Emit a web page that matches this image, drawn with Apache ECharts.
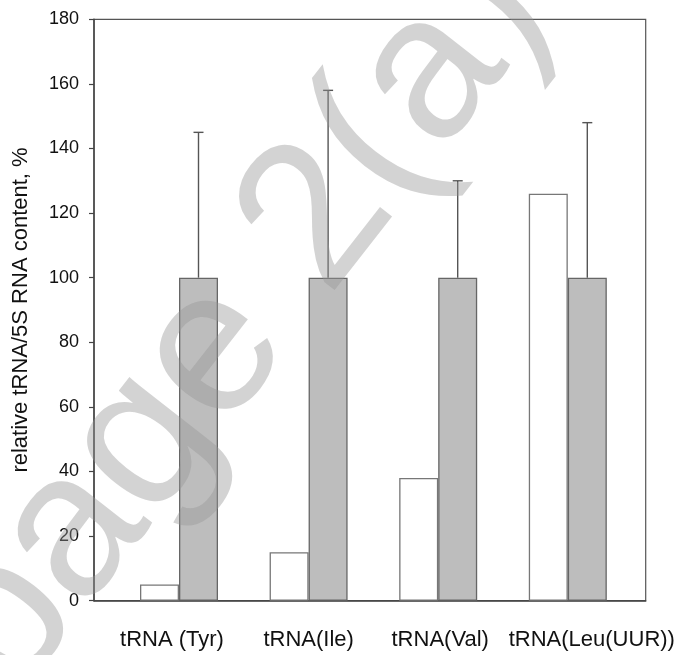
<!DOCTYPE html>
<html><head><meta charset="utf-8">
<script src="https://cdn.jsdelivr.net/npm/echarts@6/dist/echarts.min.js"></script>
<style>html,body{margin:0;padding:0;background:#fff}#c{width:678px;height:655px}</style>
</head><body><div id="c"></div>
<script>
const categories = ['tRNA (Tyr)', 'tRNA(Ile)', 'tRNA(Val)', 'tRNA(Leu(UUR))'];
const whiteValues = [5, 15, 38, 126];
const grayValues = [100, 100, 100, 100];
const grayErrorTop = [145, 158, 130, 148];
const yTicks = [0, 20, 40, 60, 80, 100, 120, 140, 160, 180];

const FONT = '"Liberation Sans", Arial, sans-serif';
const BAR_W = 39;
const chart = echarts.init(document.getElementById('c'), null, {renderer: 'canvas'});

const labelRich = {
  l0: {fontSize: 22, color: '#111', fontFamily: FONT, padding: [0, 14, 0, 0]},
  l1: {fontSize: 22, color: '#111', fontFamily: FONT, padding: [0, 0, 0, 0]},
  l2: {fontSize: 22, color: '#111', fontFamily: FONT, padding: [0, 0, 0, 4]},
  l3: {fontSize: 22, color: '#111', fontFamily: FONT, padding: [0, 0, 0, 48]}
};

const option = {
  animation: false,
  backgroundColor: '#fff',
  grid: [
    {left: 94, top: 19.3, width: 551.7, height: 581.4, show: true, borderColor: '#555', borderWidth: 1.2, backgroundColor: 'transparent'},
    {left: 114.2, top: 19.3, width: 518.4, height: 581.4}
  ],
  xAxis: [
    {gridIndex: 0, type: 'category', data: categories, axisLine: {show: true, lineStyle: {color: '#444', width: 1.5}}, axisTick: {show: false}, axisLabel: {show: false}},
    {gridIndex: 1, type: 'category', data: categories, axisLine: {show: false}, axisTick: {show: false},
     axisLabel: {show: true, margin: 28, interval: 0, hideOverlap: false,
       formatter: function (v, i) { return '{l' + i + '|' + v + '}'; }, rich: labelRich}}
  ],
  yAxis: [
    {gridIndex: 0, type: 'value', min: yTicks[0], max: yTicks[yTicks.length - 1], interval: 20,
     name: 'relative tRNA/5S RNA content, %', nameLocation: 'middle', nameGap: 62, nameRotate: 90,
     nameTextStyle: {fontSize: 22, color: '#111', fontFamily: FONT},
     axisLine: {show: true, lineStyle: {color: '#444', width: 1.5}},
     axisTick: {show: true, inside: false, length: 5, lineStyle: {color: '#444', width: 1.2}},
     axisLabel: {margin: 15, fontSize: 18, color: '#111', fontFamily: FONT},
     splitLine: {show: false}},
    {gridIndex: 1, type: 'value', min: yTicks[0], max: yTicks[yTicks.length - 1], interval: 20, show: false, splitLine: {show: false}}
  ],
  series: [
    {type: 'bar', xAxisIndex: 1, yAxisIndex: 1, data: whiteValues, barWidth: BAR_W, barGap: '0%',
     itemStyle: {color: '#fff', borderColor: '#777', borderWidth: 1.3}},
    {type: 'bar', xAxisIndex: 1, yAxisIndex: 1, data: grayValues, barWidth: BAR_W, barGap: '0%',
     itemStyle: {color: '#bdbdbd', borderColor: '#666', borderWidth: 1.3}},
    {type: 'custom', xAxisIndex: 1, yAxisIndex: 1, z: 1,
     data: grayErrorTop.map((v, i) => [i, grayValues[i], v]),
     renderItem: function (params, api) {
       const base = api.coord([api.value(0), api.value(1)]);
       const top = api.coord([api.value(0), api.value(2)]);
       const x = base[0] + BAR_W / 2;
       const cap = 5;
       return {type: 'group', children: [
         {type: 'line', shape: {x1: x, y1: base[1], x2: x, y2: top[1]}, style: {stroke: '#555', lineWidth: 1.4}},
         {type: 'line', shape: {x1: x - cap, y1: top[1], x2: x + cap, y2: top[1]}, style: {stroke: '#555', lineWidth: 1.4}}
       ]};
     }}
  ],
  graphic: [
    {type: 'text', x: 238, y: 322, rotation: 52 * Math.PI / 180, z: 100, silent: true,
     style: {text: 'page 2(a)', font: '205px ' + FONT, fill: 'rgba(150,150,150,0.42)', align: 'center', verticalAlign: 'middle'}}
  ]
};
chart.setOption(option);
</script></body></html>
